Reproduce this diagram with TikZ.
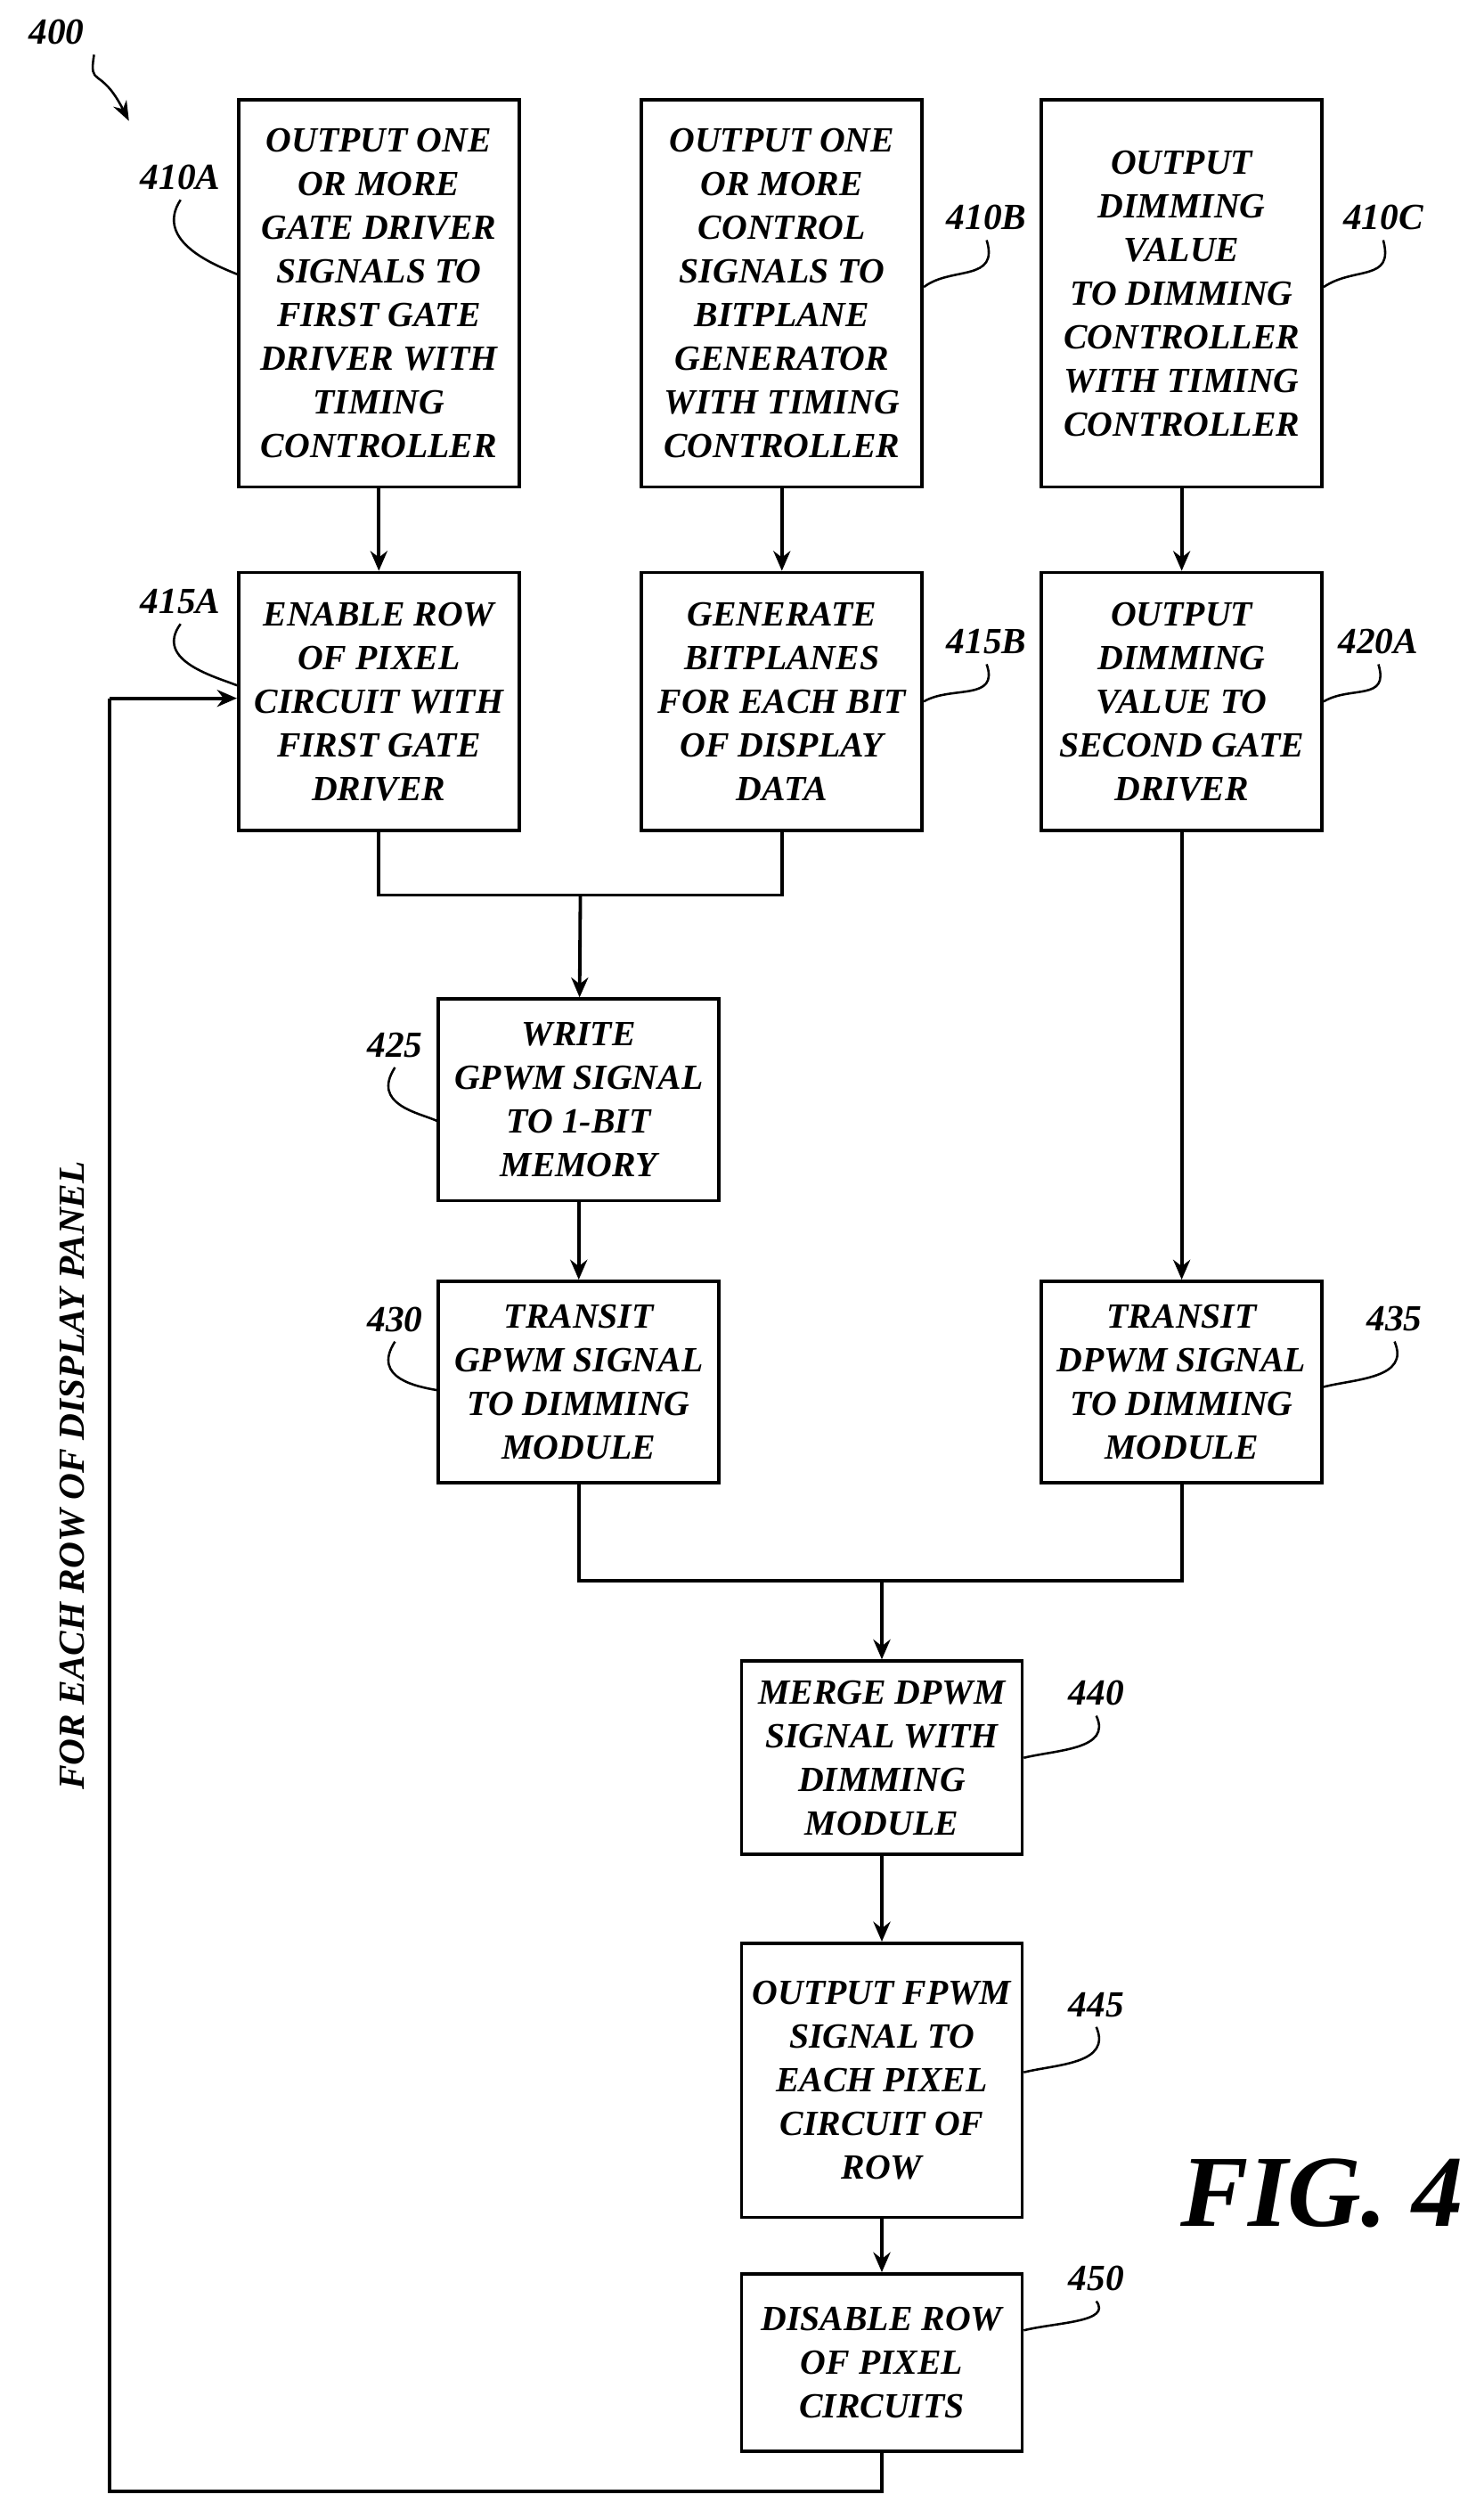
\documentclass[tikz,border=0pt]{standalone}
\usepackage{fontspec}
\setmainfont{Liberation Serif}
\usetikzlibrary{arrows.meta}
\tikzset{
  proc/.style={draw,line width=1.2pt,minimum width=3.48cm,align=center,inner sep=2pt,
    font=\fontsize{12.5}{15.4}\selectfont\bfseries\itshape},
  lbl/.style={font=\fontsize{13}{15}\selectfont\bfseries\itshape},
  flow/.style={line width=1.2pt,-{Stealth[length=7pt,width=6pt]}},
  line/.style={line width=1.2pt},
  sq/.style={line width=0.8pt}
}
\begin{document}
\begin{tikzpicture}[x=0.02cm,y=-0.02cm]
\useasboundingbox (0,0) rectangle (920,1562);
% boxes
\node[proc,minimum height=4.8cm] (s410A) at (235,182) {OUTPUT ONE\\OR MORE\\GATE DRIVER\\SIGNALS TO\\FIRST GATE\\DRIVER WITH\\TIMING\\CONTROLLER};
\node[proc,minimum height=4.8cm] (s410B) at (485,182) {OUTPUT ONE\\OR MORE\\CONTROL\\SIGNALS TO\\BITPLANE\\GENERATOR\\WITH TIMING\\CONTROLLER};
\node[proc,minimum height=4.8cm] (s410C) at (733,182) {OUTPUT\\DIMMING\\VALUE\\TO DIMMING\\CONTROLLER\\WITH TIMING\\CONTROLLER};
\node[proc,minimum height=3.2cm] (s415A) at (235,435) {ENABLE ROW\\OF PIXEL\\CIRCUIT WITH\\FIRST GATE\\DRIVER};
\node[proc,minimum height=3.2cm] (s415B) at (485,435) {GENERATE\\BITPLANES\\FOR EACH BIT\\OF DISPLAY\\DATA};
\node[proc,minimum height=3.2cm] (s420A) at (733,435) {OUTPUT\\DIMMING\\VALUE TO\\SECOND GATE\\DRIVER};
\node[proc,minimum height=2.5cm] (s425) at (359,682) {WRITE\\GPWM SIGNAL\\TO 1-BIT\\MEMORY};
\node[proc,minimum height=2.5cm] (s430) at (359,857) {TRANSIT\\GPWM SIGNAL\\TO DIMMING\\MODULE};
\node[proc,minimum height=2.5cm] (s435) at (733,857) {TRANSIT\\DPWM SIGNAL\\TO DIMMING\\MODULE};
\node[proc,minimum height=2.4cm] (s440) at (547,1090) {MERGE DPWM\\SIGNAL WITH\\DIMMING\\MODULE};
\node[proc,minimum height=3.4cm] (s445) at (547,1290) {OUTPUT FPWM\\SIGNAL TO\\EACH PIXEL\\CIRCUIT OF\\ROW};
\node[proc,minimum height=2.2cm] (s450) at (547,1465) {DISABLE ROW\\OF PIXEL\\CIRCUITS};
% connectors
\draw[flow] (s410A) -- (s415A);
\draw[flow] (s410B) -- (s415B);
\draw[flow] (s410C) -- (s420A);
\coordinate (j1) at (360,555);
\draw[line] (s415A.south) |- (j1) -| (s415B.south);
\draw[flow] (j1) -- (s425);
\draw[flow] (s425) -- (s430);
\draw[flow] (s420A) -- (s435);
\coordinate (j2) at (547,980);
\draw[line] (s430.south) |- (j2) -| (s435.south);
\draw[flow] (j2) -- (s440);
\draw[flow] (s440) -- (s445);
\draw[flow] (s445) -- (s450);
\coordinate (b1) at (68,1545);
\coordinate (b2) at (68,433);
\draw[line] (s450.south) |- (b1) -- (b2);
\draw[flow] (b2) -- (s415A.west |- b2);
\node[lbl,rotate=90] (loop) at (45,915) {FOR EACH ROW OF DISPLAY PANEL};
% reference labels
\node[lbl] (l400) at (35,20) {400};
\draw[sq,-{Stealth[length=7pt]}] (l400.south east) .. controls (55,55) and (62,40) .. (80,75);
\node[lbl] (l410A) at (112,110) {410A};
\draw[sq] (l410A.south) .. controls (95,150) and (135,165) .. (s410A.west |- 0,170);
\node[lbl] (l415A) at (112,373) {415A};
\draw[sq] (l415A.south) .. controls (95,410) and (135,420) .. (s415A.west |- 0,425);
\node[lbl] (l410B) at (612,135) {410B};
\draw[sq] (l410B.south) .. controls (620,175) and (590,165) .. (s410B.east |- 0,178);
\node[lbl] (l410C) at (858,135) {410C};
\draw[sq] (l410C.south) .. controls (865,175) and (840,165) .. (s410C.east |- 0,178);
\node[lbl] (l415B) at (612,398) {415B};
\draw[sq] (l415B.south) .. controls (620,435) and (590,425) .. (s415B.east |- 0,435);
\node[lbl] (l420A) at (855,398) {420A};
\draw[sq] (l420A.south) .. controls (862,435) and (838,425) .. (s420A.east |- 0,435);
\node[lbl] (l425) at (245,648) {425};
\draw[sq] (l425.south) .. controls (230,685) and (260,690) .. (s425.west |- 0,695);
\node[lbl] (l430) at (245,818) {430};
\draw[sq] (l430.south) .. controls (230,855) and (260,860) .. (s430.west |- 0,862);
\node[lbl] (l435) at (865,818) {435};
\draw[sq] (l435.south) .. controls (875,855) and (840,855) .. (s435.east |- 0,860);
\node[lbl] (l440) at (680,1050) {440};
\draw[sq] (l440.south) .. controls (690,1085) and (655,1085) .. (s440.east |- 0,1090);
\node[lbl] (l445) at (680,1243) {445};
\draw[sq] (l445.south) .. controls (690,1280) and (655,1280) .. (s445.east |- 0,1285);
\node[lbl] (l450) at (680,1413) {450};
\draw[sq] (l450.south) .. controls (690,1440) and (655,1440) .. (s450.east |- 0,1445);
\node[font=\fontsize{36}{40}\selectfont\bfseries\itshape] (fig) at (820,1360) {FIG. 4};
\end{tikzpicture}
\end{document}
